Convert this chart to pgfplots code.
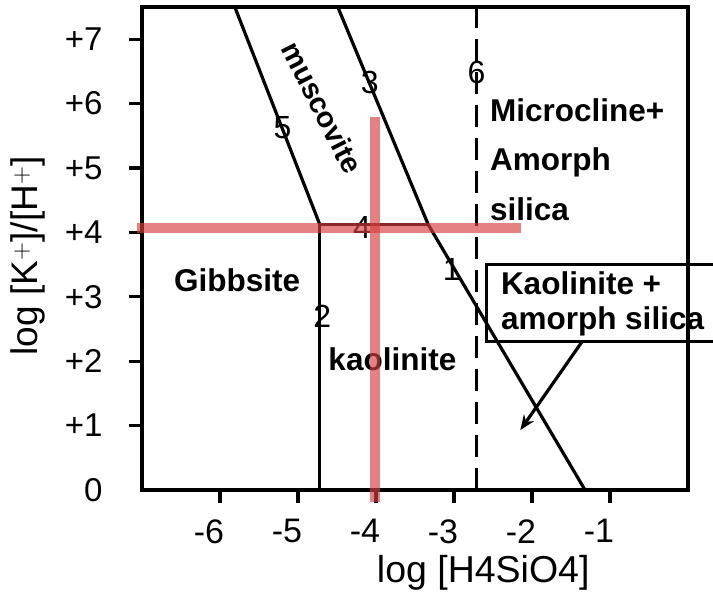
\documentclass[border=0pt]{standalone}
\usepackage{fontspec}
\setmainfont{Liberation Sans}
\usepackage{pgfplots}
\pgfplotsset{compat=1.18}
\usetikzlibrary{arrows.meta}
\definecolor{crossred}{RGB}{214,62,62}
\begin{document}
\begin{tikzpicture}
\begin{axis}[
  scale only axis,
  width=546pt, height=483pt,
  xmin=-7, xmax=0, ymin=0, ymax=7.5,
  axis line style={line width=3.2pt},
  every tick/.style={line width=3.2pt, black},
  tick align=outside,
  major tick length=13pt,
  xtick={-6,-5,-4,-3,-2,-1},
  xticklabels={-6,-5,-4,-3,-2,-1},
  ytick={1,2,3,4,5,6,7},
  yticklabels={+1,+2,+3,+4,+5,+6,+7},
  extra y ticks={0},
  extra y tick labels={0},
  extra y tick style={tick style={draw=none}},
  xtick pos=bottom, ytick pos=left,
  yticklabel style={font=\fontsize{33}{38}\selectfont, xshift=-23pt},
  xticklabel style={font=\fontsize{34}{38}\selectfont, xshift=-11pt, yshift=-13pt},
  xlabel={log [H4SiO4]},
  ylabel={log [K$^{+}$]/[H$^{+}$]},
  xlabel style={font=\fontsize{37.5}{42}\selectfont, at={(axis description cs:0.625,-0.172)}, anchor=center},
  ylabel style={font=\fontsize{37}{42}\selectfont, at={(axis description cs:-0.209,0.485)}, anchor=center},
  clip=false,
]
\coordinate (O) at (rel axis cs:0,0);
% phase boundaries
\addplot[black, line width=3.2pt] coordinates {(-5.81,7.5) (-4.72,4.12)};
\addplot[black, line width=3.2pt] coordinates {(-4.72,0) (-4.72,4.12)};
\addplot[black, line width=3.2pt] coordinates {(-4.72,4.12) (-3.33,4.12)};
\addplot[black, line width=3.2pt] coordinates {(-4.49,7.5) (-3.33,4.12)};
\addplot[black, line width=3.2pt] coordinates {(-3.33,4.12) (-1.32,0)};
\addplot[black, line width=3.2pt, dash pattern=on 22pt off 11pt] coordinates {(-2.71,0) (-2.71,7.5)};
% callout box and arrow
\addplot[black, line width=3.2pt] coordinates {(0.45,3.50) (-2.58,3.50) (-2.58,2.30) (0.45,2.30)};
\addplot[black, line width=3.2pt, -{Stealth[length=15pt,width=12pt]}] coordinates {(-1.36,2.30) (-2.15,0.93)};
% labels
\node[font=\bfseries\fontsize{31.5}{36}\selectfont, anchor=base, inner sep=0pt] at (axis cs:-5.78,3.08) {Gibbsite};
\node[font=\bfseries\fontsize{31.5}{36}\selectfont, anchor=base, inner sep=0pt] at (axis cs:-3.79,1.86) {kaolinite};
\node[font=\bfseries\fontsize{29}{34}\selectfont, rotate=-63] at (axis cs:-4.69,5.94) {muscovite};
\node[font=\bfseries\fontsize{31.5}{36}\selectfont, anchor=base west, inner sep=0pt] at (axis cs:-2.54,5.72) {Microcline+};
\node[font=\bfseries\fontsize{31.5}{36}\selectfont, anchor=base west, inner sep=0pt] at (axis cs:-2.54,4.96) {Amorph};
\node[font=\bfseries\fontsize{31.5}{36}\selectfont, anchor=base west, inner sep=0pt] at (axis cs:-2.54,4.18) {silica};
\node[font=\bfseries\fontsize{31.5}{36}\selectfont, anchor=base west, inner sep=0pt] at (axis cs:-2.40,3.03) {Kaolinite +};
\node[font=\bfseries\fontsize{31.5}{36}\selectfont, anchor=base west, inner sep=0pt] at (axis cs:-2.40,2.49) {amorph silica};
% line numbers
\node[font=\fontsize{32}{36}\selectfont, inner sep=0pt] at (axis cs:-5.20,5.63) {5};
\node[font=\fontsize{32}{36}\selectfont, inner sep=0pt] at (axis cs:-4.08,6.33) {3};
\node[font=\fontsize{32}{36}\selectfont, inner sep=0pt] at (axis cs:-2.71,6.49) {6};
\node[font=\fontsize{32}{36}\selectfont, inner sep=0pt] at (axis cs:-4.18,4.07) {4};
\node[font=\fontsize{32}{36}\selectfont, inner sep=0pt] at (axis cs:-3.03,3.42) {1};
\node[font=\fontsize{32}{36}\selectfont, inner sep=0pt] at (axis cs:-4.69,2.70) {2};
% red overlay crosshair
\addplot[crossred, line width=10pt, opacity=0.65] coordinates {(-7.06,4.07) (-2.14,4.07)};
\addplot[crossred, line width=10pt, opacity=0.65] coordinates {(-4.01,5.79) (-4.01,-0.19)};
\end{axis}
\pgfresetboundingbox
\path ([xshift=-142pt,yshift=-102pt]O) rectangle ([xshift=571pt,yshift=490pt]O);
\end{tikzpicture}
\end{document}
